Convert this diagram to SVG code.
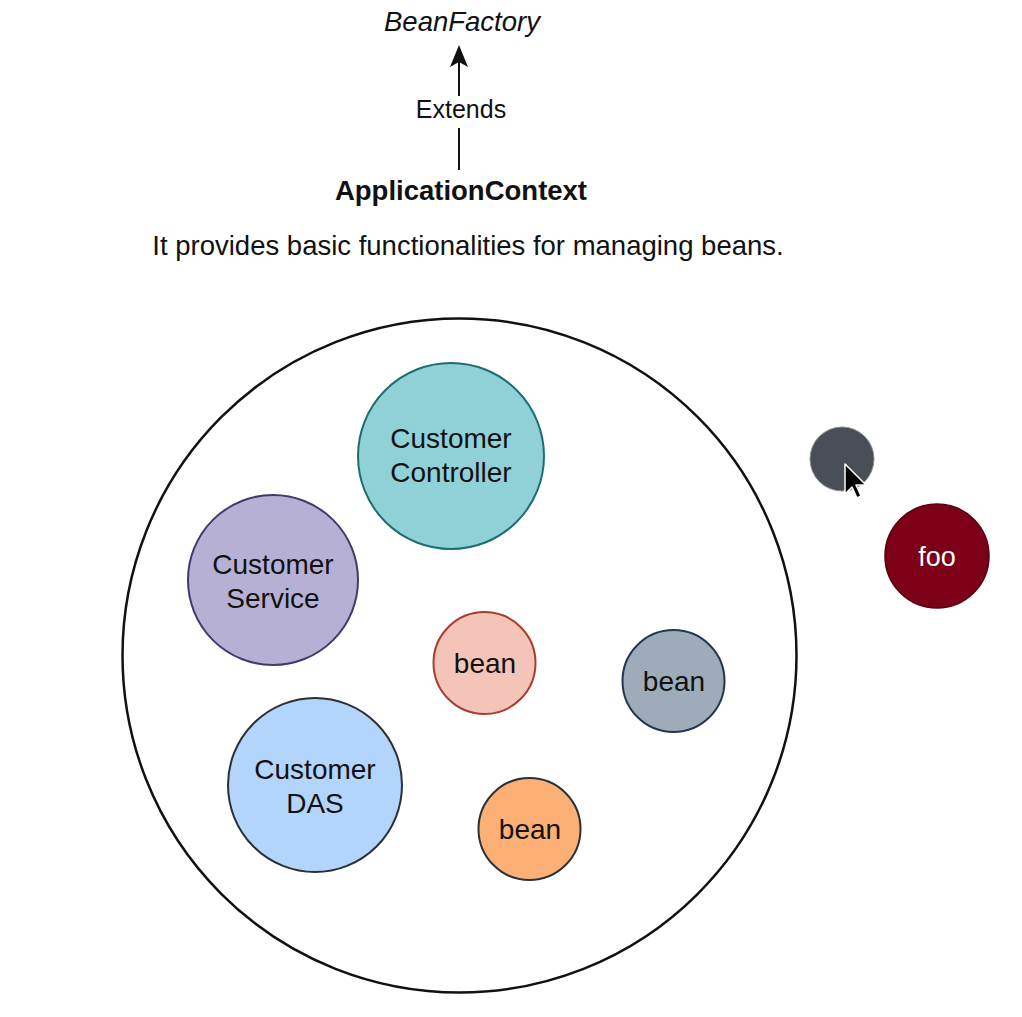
<svg xmlns="http://www.w3.org/2000/svg" width="1022" height="1017" viewBox="0 0 1022 1017">
<defs>
<style>
text{font-family:"Liberation Sans",Arial,sans-serif;fill:#111;text-anchor:middle}
.lbl{font-size:28px}
.node{stroke-width:2}
</style>
</defs>
<rect width="1022" height="1017" fill="#fff"/>
<g id="beanfactory"><text x="462" y="31" style="font-size:27.5px;font-style:italic">BeanFactory</text></g>
<g id="appcontext"><text x="461" y="200" style="font-size:27.5px;font-weight:bold">ApplicationContext</text></g>
<g id="connectors">
<line x1="459" y1="170" x2="459" y2="128" stroke="#111" stroke-width="2"/>
<line x1="459" y1="96" x2="459" y2="60" stroke="#111" stroke-width="2"/>
<path d="M459,45 L450,67 L459,62 L468,67 Z" fill="#111"/>
<text x="461" y="118" style="font-size:25px">Extends</text>
</g>
<g id="desc"><text x="468" y="255" style="font-size:27.5px">It provides basic functionalities for managing beans.</text></g>
<g id="container"><circle cx="459.5" cy="655.5" r="337" fill="#fff" stroke="#111" stroke-width="2.5"/></g>
<g id="controller"><circle class="node" cx="451" cy="456" r="93" fill="#90d1d7" stroke="#1b6f70"/>
<text class="lbl" x="451" y="448">Customer</text><text class="lbl" x="451" y="482">Controller</text></g>
<g id="service"><circle class="node" cx="273" cy="580" r="85" fill="#b6b1d4" stroke="#47386b"/>
<text class="lbl" x="273" y="574">Customer</text><text class="lbl" x="273" y="608">Service</text></g>
<g id="das"><circle class="node" cx="315" cy="785" r="87" fill="#b3d5fb" stroke="#2b2f38"/>
<text class="lbl" x="315" y="779">Customer</text><text class="lbl" x="315" y="813">DAS</text></g>
<g id="bean1"><circle class="node" cx="484.5" cy="663" r="51" fill="#f4c4b8" stroke="#a93a30"/>
<text class="lbl" x="485" y="673">bean</text></g>
<g id="bean2"><circle class="node" cx="673.5" cy="681" r="51" fill="#9eacba" stroke="#233650"/>
<text class="lbl" x="674" y="691">bean</text></g>
<g id="bean3"><circle class="node" cx="529.5" cy="829" r="51" fill="#fdb075" stroke="#2b2f38"/>
<text class="lbl" x="530" y="839">bean</text></g>
<g id="dot"><circle cx="842" cy="459" r="32" fill="#4a4e56" stroke="#8a8e95" stroke-width="1"/></g>
<g id="cursor"><path d="M845,464 L845,494 L852,487 L857,498 L861,496 L856,485 L866,485 Z" fill="#000" stroke="#fff" stroke-width="1.5" stroke-linejoin="round"/></g>
<g id="foo"><circle cx="937" cy="556" r="52" fill="#7b0018" stroke="#5a0010" stroke-width="1.5"/>
<text x="937" y="566" style="font-size:27px;fill:#fff">foo</text></g>
</svg>
